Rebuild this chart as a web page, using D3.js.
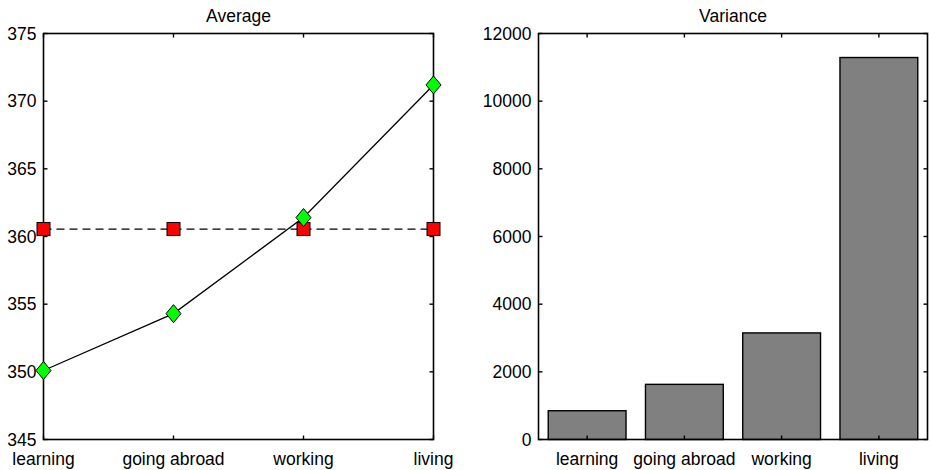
<!DOCTYPE html>
<html>
<head>
<meta charset="utf-8">
<script src="https://cdn.jsdelivr.net/npm/d3@7"></script>
<style>
  body { margin: 0; background: #fff; }
  text { font-family: "Liberation Sans", Arial, sans-serif; }
</style>
</head>
<body>
<div id="chart"></div>
<script>
const categories = ['learning', 'going abroad', 'working', 'living'];
const averageValues = [350.1, 354.3, 361.4, 371.2];
const baselineValues = [360.55, 360.55, 360.55, 360.55];
const varianceValues = [850, 1630, 3150, 11290];
const avgTicks = [345, 350, 355, 360, 365, 370, 375];
const varTicks = [0, 2000, 4000, 6000, 8000, 10000, 12000];

const width = 930;
const height = 470;
const fontSize = '17.5px';

const svg = d3.select('#chart')
  .append('svg')
  .attr('width', width)
  .attr('height', height);

const plotTop = 33.5, plotBottom = 439.5;
const tickLen = 4;

function frame(g, x0, x1, title) {
  g.append('rect')
    .attr('x', x0).attr('y', plotTop)
    .attr('width', x1 - x0).attr('height', plotBottom - plotTop)
    .attr('fill', 'none').attr('stroke', '#000').attr('stroke-width', 1.6);
  g.append('text')
    .attr('x', (x0 + x1) / 2).attr('y', 22)
    .attr('text-anchor', 'middle')
    .style('font-size', fontSize)
    .text(title);
}

function yTicks(g, y, ticks, x0, x1, fmt) {
  ticks.forEach(t => {
    const yy = y(t);
    g.append('line').attr('x1', x0).attr('x2', x0 + tickLen).attr('y1', yy).attr('y2', yy)
      .attr('stroke', '#000').attr('stroke-width', 1.4);
    g.append('line').attr('x1', x1).attr('x2', x1 - tickLen).attr('y1', yy).attr('y2', yy)
      .attr('stroke', '#000').attr('stroke-width', 1.4);
    g.append('text')
      .attr('x', x0 - 7).attr('y', yy).attr('dy', '0.36em')
      .attr('text-anchor', 'end')
      .style('font-size', fontSize)
      .text(fmt(t));
  });
}

function xTicks(g, x) {
  categories.forEach((c, i) => {
    const xx = x(i + 1);
    g.append('line').attr('x1', xx).attr('x2', xx).attr('y1', plotBottom).attr('y2', plotBottom - tickLen)
      .attr('stroke', '#000').attr('stroke-width', 1.4);
    g.append('line').attr('x1', xx).attr('x2', xx).attr('y1', plotTop).attr('y2', plotTop + tickLen)
      .attr('stroke', '#000').attr('stroke-width', 1.4);
    g.append('text')
      .attr('x', xx).attr('y', 465)
      .attr('text-anchor', 'middle')
      .style('font-size', fontSize)
      .text(c);
  });
}

// ---- Average panel
const left = svg.append('g');
const lx0 = 43.5, lx1 = 433.5;
const xAvg = d3.scaleLinear().domain([1, 4]).range([lx0, lx1]);
const yAvg = d3.scaleLinear().domain([345, 375]).range([plotBottom, plotTop]);

const line = d3.line()
  .x((d, i) => xAvg(i + 1))
  .y(d => yAvg(d));

left.append('path')
  .datum(baselineValues)
  .attr('d', line)
  .attr('fill', 'none').attr('stroke', '#000').attr('stroke-width', 1.3)
  .attr('stroke-dasharray', '8,5');

left.append('path')
  .datum(averageValues)
  .attr('d', line)
  .attr('fill', 'none').attr('stroke', '#000').attr('stroke-width', 1.3);

frame(left, lx0, lx1, 'Average');
yTicks(left, yAvg, avgTicks, lx0, lx1, d => d);
xTicks(left, xAvg);

left.selectAll('rect.sq')
  .data(baselineValues)
  .enter().append('rect')
  .attr('class', 'sq')
  .attr('x', (d, i) => xAvg(i + 1) - 6.5)
  .attr('y', d => yAvg(d) - 6.5)
  .attr('width', 13).attr('height', 13)
  .attr('fill', '#ff0000').attr('stroke', '#000').attr('stroke-width', 1);

left.selectAll('path.dm')
  .data(averageValues)
  .enter().append('path')
  .attr('class', 'dm')
  .attr('d', (d, i) => {
    const cx = xAvg(i + 1), cy = yAvg(d);
    return `M${cx},${cy - 9}L${cx + 7.5},${cy}L${cx},${cy + 9}L${cx - 7.5},${cy}Z`;
  })
  .attr('fill', '#00ff00').attr('stroke', '#000').attr('stroke-width', 1);

// ---- Variance panel
const right = svg.append('g');
const rx0 = 538.5, rx1 = 927.5;
const xVar = d3.scaleLinear().domain([0.5, 4.5]).range([rx0, rx1]);
const yVar = d3.scaleLinear().domain([0, 12000]).range([plotBottom, plotTop]);
const bw = (xVar(2) - xVar(1)) * 0.8;

right.selectAll('rect.bar')
  .data(varianceValues)
  .enter().append('rect')
  .attr('class', 'bar')
  .attr('x', (d, i) => xVar(i + 1) - bw / 2)
  .attr('y', d => yVar(d))
  .attr('width', bw)
  .attr('height', d => yVar(0) - yVar(d))
  .attr('fill', '#808080').attr('stroke', '#000').attr('stroke-width', 1.4);

frame(right, rx0, rx1, 'Variance');
yTicks(right, yVar, varTicks, rx0, rx1, d => d);
xTicks(right, xVar);
</script>
</body>
</html>
